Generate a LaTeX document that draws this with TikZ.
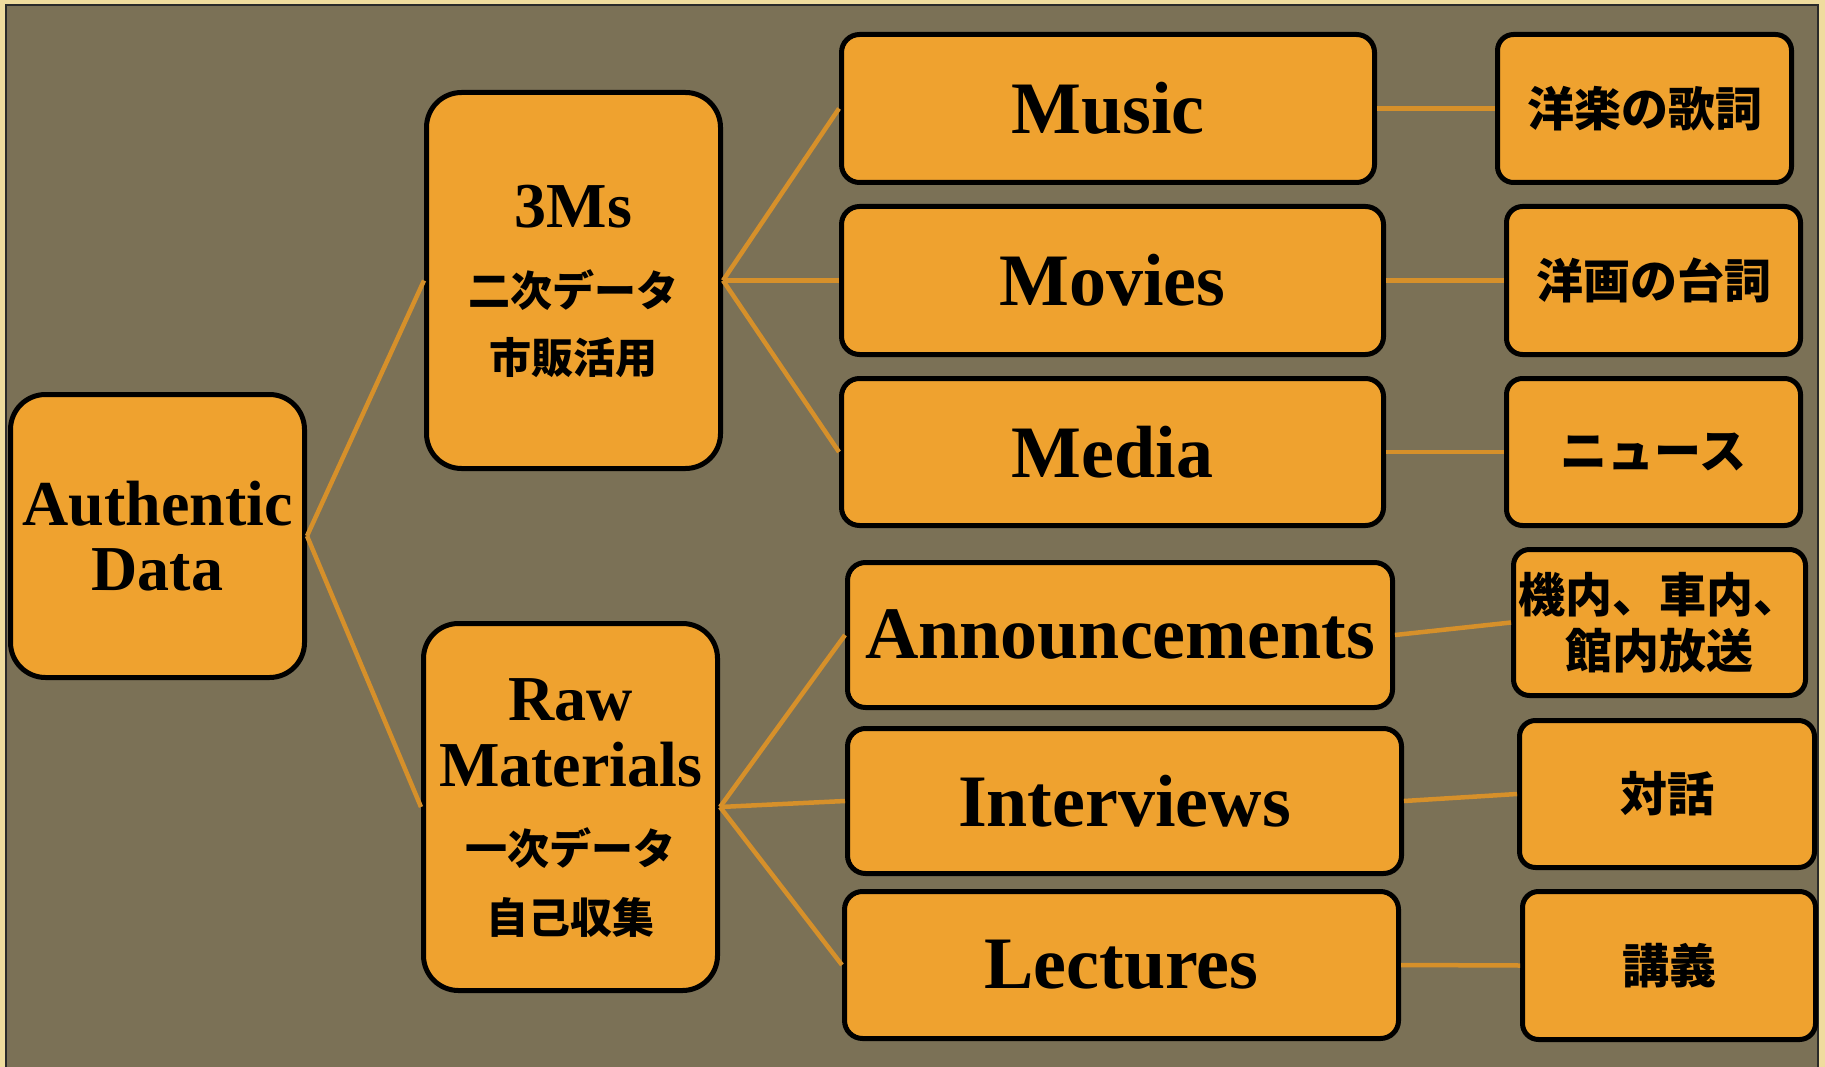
\documentclass[tikz,border=0pt]{standalone}
\usepackage{fontspec}
\setmainfont{Liberation Serif}
\newfontfamily\jpfont{Noto Sans CJK JP}
\definecolor{pagecream}{HTML}{EFDC9E}
\definecolor{bgbrown}{HTML}{7B7156}
\definecolor{boxorange}{HTML}{EFA22F}
\definecolor{linkgold}{HTML}{D6902A}
\definecolor{frameline}{HTML}{2A2A2A}
\tikzset{
  boxbase/.style={draw=black, line width=5pt, fill=boxorange, inner sep=0pt, align=center},
  bigbox/.style={boxbase, rounded corners=35pt, font=\bfseries\fontsize{64}{65}\selectfont},
  midbox/.style={boxbase, rounded corners=18pt, font=\bfseries\fontsize{74}{80}\selectfont},
  rightbox/.style={boxbase, rounded corners=16pt, font=\jpfont\bfseries\fontsize{47}{56}\selectfont},
  entxt/.style={inner sep=0pt, anchor=base, font=\bfseries\fontsize{64}{65}\selectfont},
  jptxt/.style={inner sep=0pt, anchor=center, font=\jpfont\bfseries\fontsize{42}{50}\selectfont},
  link/.style={draw=linkgold, line width=4.5pt}
}
\begin{document}
\begin{tikzpicture}[x=1pt,y=-1pt]
\useasboundingbox (0,0) rectangle (1825,1067);
\fill[pagecream] (0,0) rectangle (1825,1067);
\draw[frameline, line width=2pt, fill=bgbrown] (5.5,5.5) rectangle (1818,1075);

% left column
\node[bigbox, minimum width=294pt, minimum height=283pt] (auth) at (157.5,536) {Authentic\\Data};

% second column
\node[bigbox, minimum width=294pt, minimum height=376pt] (m3) at (573.5,280.5) {};
\node[entxt] (m3a) at (573.5,228) {3Ms};
\node[jptxt] (m3b) at (573.5,290) {二次データ};
\node[jptxt] (m3c) at (573.5,358) {市販活用};

\node[bigbox, minimum width=294pt, minimum height=367pt] (raw) at (570.5,807) {};
\node[entxt] (rawa) at (570.5,720) {Raw};
\node[entxt] (rawb) at (570.5,786) {Materials};
\node[jptxt] (rawc) at (570.5,848) {一次データ};
\node[jptxt] (rawd) at (570.5,917) {自己収集};

% third column
\node[midbox, minimum width=533pt, minimum height=148pt] (music) at (1108,108.5) {Music};
\node[midbox, minimum width=542pt, minimum height=148pt] (movies) at (1112.5,280.5) {Movies};
\node[midbox, minimum width=542pt, minimum height=147pt] (media) at (1112.5,452) {Media};
\node[midbox, minimum width=545pt, minimum height=145pt] (ann) at (1120,635) {Announcements};
\node[midbox, minimum width=554pt, minimum height=145pt] (inter) at (1124.5,801) {Interviews};
\node[midbox, minimum width=554pt, minimum height=147pt] (lect) at (1121.5,965) {Lectures};

% fourth column
\node[rightbox, minimum width=294pt, minimum height=148pt] (r1) at (1644.5,108.5) {洋楽の歌詞};
\node[rightbox, minimum width=294pt, minimum height=148pt] (r2) at (1653.5,280.5) {洋画の台詞};
\node[rightbox, minimum width=294pt, minimum height=147pt] (r3) at (1653.5,452) {ニュース};
\node[rightbox, minimum width=292pt, minimum height=146pt] (r4) at (1659.5,622.5) {機内、車内、\\館内放送};
\node[rightbox, minimum width=295pt, minimum height=147pt] (r5) at (1667,794) {対話};
\node[rightbox, minimum width=293pt, minimum height=148pt] (r6) at (1669,965.5) {講義};

% connectors
\draw[link] (auth.east) -- (m3.west);
\draw[link] (auth.east) -- (raw.west);
\draw[link] (m3.east) -- (music.west);
\draw[link] (m3.east) -- (movies.west);
\draw[link] (m3.east) -- (media.west);
\draw[link] (raw.east) -- (ann.west);
\draw[link] (raw.east) -- (inter.west);
\draw[link] (raw.east) -- (lect.west);
\draw[link] (music.east) -- (r1.west);
\draw[link] (movies.east) -- (r2.west);
\draw[link] (media.east) -- (r3.west);
\draw[link] (ann.east) -- (r4.west);
\draw[link] (inter.east) -- (r5.west);
\draw[link] (lect.east) -- (r6.west);
\end{tikzpicture}
\end{document}
